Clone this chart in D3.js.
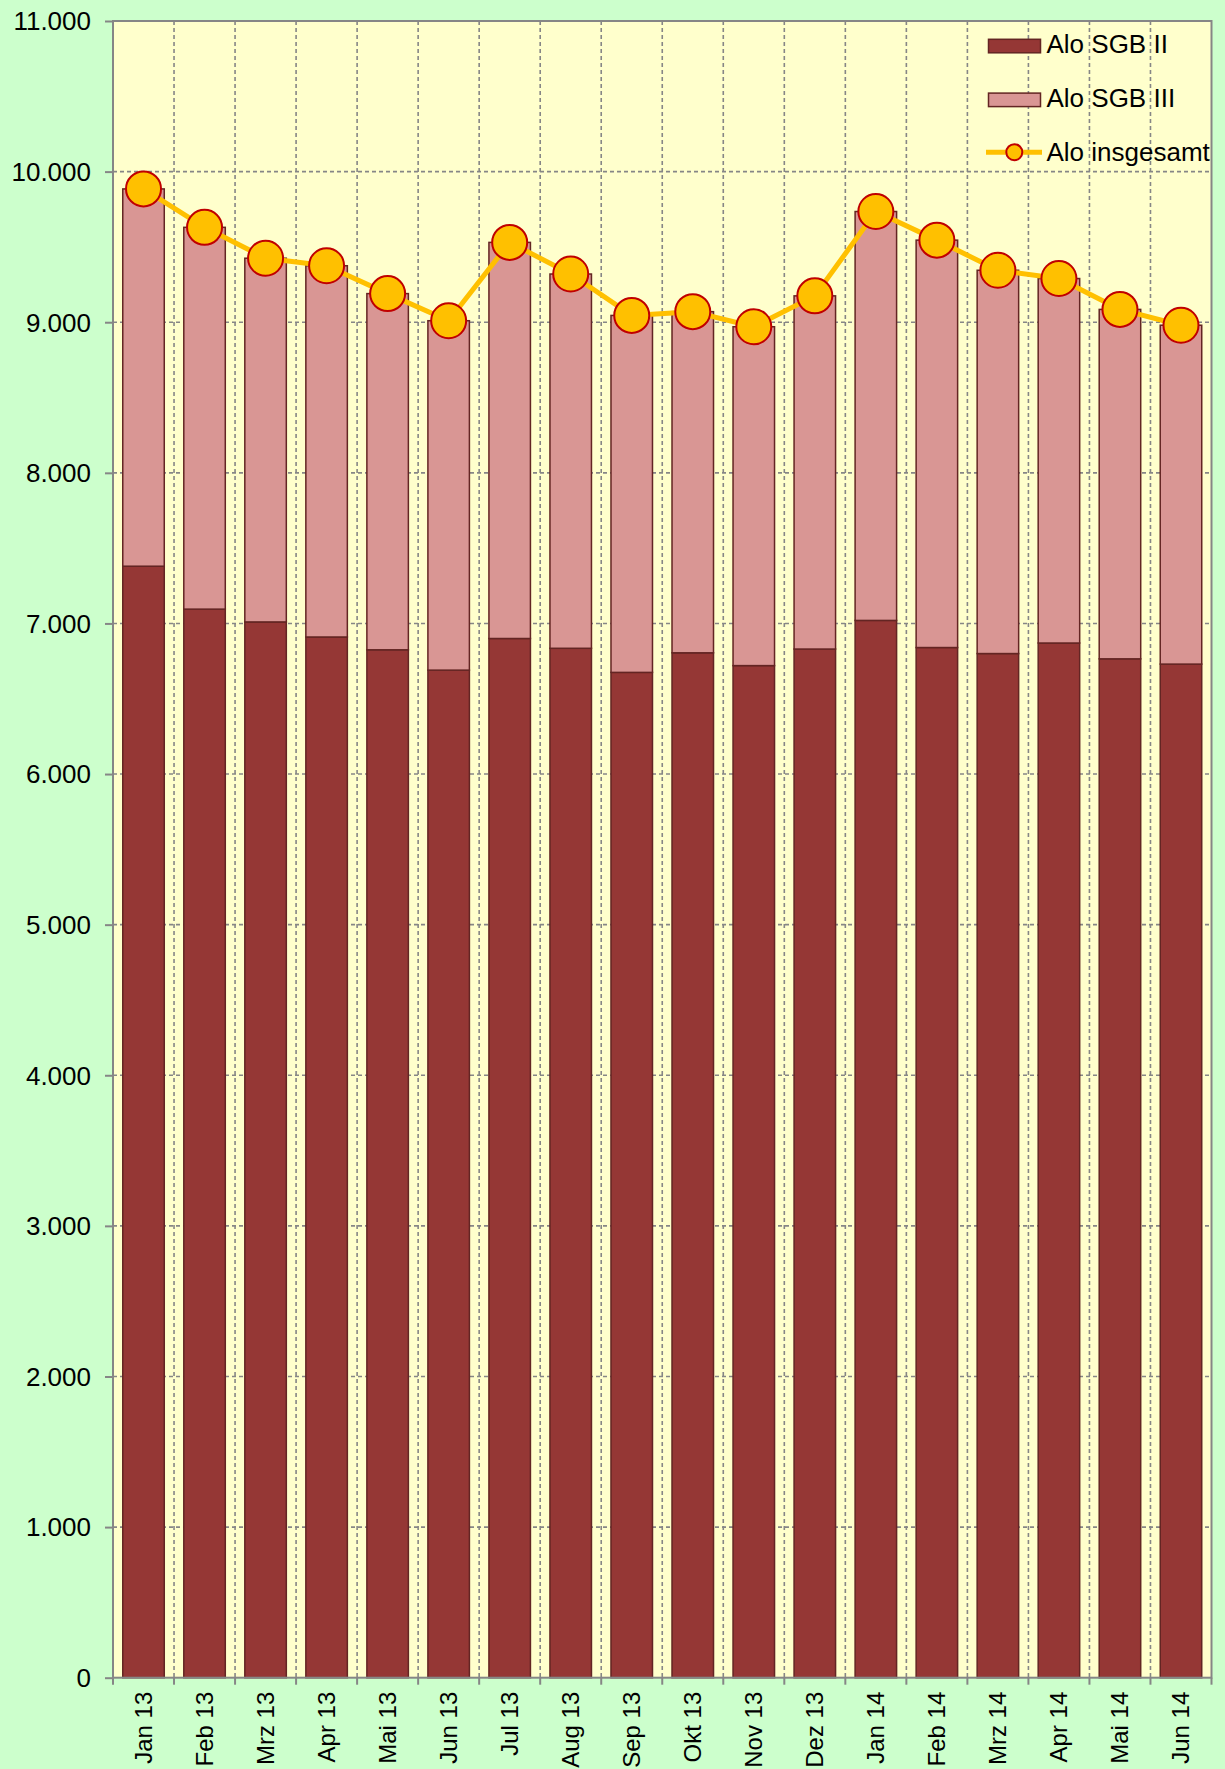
<!DOCTYPE html>
<html lang="de">
<head>
<meta charset="utf-8">
<script src="https://cdn.jsdelivr.net/npm/d3@7"></script>
<style>
  body { margin: 0; background: #ccffcc; }
  text { font-family: "Liberation Sans", Arial, sans-serif; fill: #000; }
</style>
</head>
<body>
<script>
// Monate
var months = ["Jan 13", "Feb 13", "Mrz 13", "Apr 13", "Mai 13", "Jun 13", "Jul 13", "Aug 13", "Sep 13",
              "Okt 13", "Nov 13", "Dez 13", "Jan 14", "Feb 14", "Mrz 14", "Apr 14", "Mai 14", "Jun 14"];
// Alo SGB II
var sgb2 = [7380, 7095, 7010, 6910, 6825, 6690, 6900, 6835, 6675,
            6805, 6720, 6830, 7020, 6840, 6800, 6870, 6765, 6730];
// Alo SGB III
var sgb3 = [2505, 2535, 2415, 2465, 2365, 2320, 2630, 2485, 2370,
            2265, 2250, 2345, 2715, 2705, 2545, 2420, 2320, 2250];
// Alo insgesamt
var total = [9885, 9630, 9425, 9375, 9190, 9010, 9530, 9320, 9045,
             9070, 8970, 9175, 9735, 9545, 9345, 9290, 9085, 8980];
var yTicks = [0, 1000, 2000, 3000, 4000, 5000, 6000, 7000, 8000, 9000, 10000, 11000];

var width = 1225, height = 1769;
var plotLeft = 113, plotRight = 1211.5, plotTop = 21, plotBottom = 1677.7;

var de = d3.formatLocale({decimal: ",", thousands: ".", grouping: [3], currency: ["", " €"]});
var fmt = de.format(",");

var svg = d3.select("body").append("svg")
    .attr("width", width)
    .attr("height", height);

svg.append("rect")
    .attr("width", width)
    .attr("height", height)
    .style("fill", "#ccffcc");

var x = d3.scaleBand()
    .domain(months)
    .range([plotLeft, plotRight])
    .paddingInner(0.32)
    .paddingOuter(0.16);

var y = d3.scaleLinear()
    .domain([0, 11000])
    .range([plotBottom, plotTop]);

// Zeichenfläche
svg.append("rect")
    .attr("x", plotLeft)
    .attr("y", plotTop)
    .attr("width", plotRight - plotLeft)
    .attr("height", plotBottom - plotTop)
    .style("fill", "#ffffcc");

// Gitterlinien
svg.selectAll("line.hgrid")
    .data(yTicks.slice(1, -1))
    .enter()
    .append("line")
    .attr("class", "hgrid")
    .attr("x1", plotLeft).attr("x2", plotRight)
    .attr("y1", function(d){ return y(d); })
    .attr("y2", function(d){ return y(d); })
    .style("stroke", "#868686")
    .style("stroke-width", 1.6)
    .style("stroke-dasharray", "4,3");

var step = x.step();
svg.selectAll("line.vgrid")
    .data(months.slice(1))
    .enter()
    .append("line")
    .attr("class", "vgrid")
    .attr("x1", function(d){ return x(d) - step * 0.16; })
    .attr("x2", function(d){ return x(d) - step * 0.16; })
    .attr("y1", plotTop).attr("y2", plotBottom)
    .style("stroke", "#868686")
    .style("stroke-width", 1.6)
    .style("stroke-dasharray", "4,3");

// Balken
var bars = svg.append("g");
bars.selectAll("rect.sgb2")
    .data(months)
    .enter()
    .append("rect")
    .attr("class", "sgb2")
    .attr("x", function(d){ return x(d); })
    .attr("width", x.bandwidth())
    .attr("y", function(d, i){ return y(sgb2[i]); })
    .attr("height", function(d, i){ return y(0) - y(sgb2[i]); })
    .style("fill", "#953735")
    .style("stroke", "#632523")
    .style("stroke-width", 1.5);

bars.selectAll("rect.sgb3")
    .data(months)
    .enter()
    .append("rect")
    .attr("class", "sgb3")
    .attr("x", function(d){ return x(d); })
    .attr("width", x.bandwidth())
    .attr("y", function(d, i){ return y(sgb2[i] + sgb3[i]); })
    .attr("height", function(d, i){ return y(sgb2[i]) - y(sgb2[i] + sgb3[i]); })
    .style("fill", "#d99694")
    .style("stroke", "#632523")
    .style("stroke-width", 1.5);

// Rahmen und Achsen
svg.append("rect")
    .attr("x", plotLeft)
    .attr("y", plotTop)
    .attr("width", plotRight - plotLeft)
    .attr("height", plotBottom - plotTop)
    .style("fill", "none")
    .style("stroke", "#868686")
    .style("stroke-width", 2);

var yAxis = svg.append("g")
    .attr("transform", "translate(" + plotLeft + ",0)")
    .call(d3.axisLeft(y).tickValues(yTicks).tickFormat(fmt).tickSize(8).tickPadding(14));
yAxis.select(".domain").remove();
yAxis.selectAll("line").style("stroke", "#868686").style("stroke-width", 2);
yAxis.selectAll("text")
    .style("font-size", "26px")
    .style("font-family", "'Liberation Sans', Arial, sans-serif")
    .attr("dy", "0.34em");

// x-Achse: Striche an den Kategoriegrenzen
var bounds = months.map(function(d){ return x(d) - step * 0.16; }).concat([plotRight]);
svg.selectAll("line.xtick")
    .data(bounds)
    .enter()
    .append("line")
    .attr("class", "xtick")
    .attr("x1", function(d){ return d; })
    .attr("x2", function(d){ return d; })
    .attr("y1", plotBottom).attr("y2", plotBottom + 7)
    .style("stroke", "#868686")
    .style("stroke-width", 2);

svg.selectAll("text.xlabel")
    .data(months)
    .enter()
    .append("text")
    .attr("class", "xlabel")
    .attr("transform", function(d){
        return "translate(" + (x(d) + x.bandwidth() / 2) + "," + (plotBottom + 14) + ") rotate(-90)";
    })
    .attr("text-anchor", "end")
    .attr("dy", "0.35em")
    .style("font-size", "24px")
    .text(function(d){ return d; });

// Linie Alo insgesamt
var line = d3.line()
    .x(function(d, i){ return x(months[i]) + x.bandwidth() / 2; })
    .y(function(d){ return y(d); });

svg.append("path")
    .datum(total)
    .attr("d", line)
    .style("fill", "none")
    .style("stroke", "#ffc000")
    .style("stroke-width", 5)
    .style("stroke-linejoin", "round");

svg.selectAll("circle.dot")
    .data(total)
    .enter()
    .append("circle")
    .attr("class", "dot")
    .attr("cx", function(d, i){ return x(months[i]) + x.bandwidth() / 2; })
    .attr("cy", function(d){ return y(d); })
    .attr("r", 17.5)
    .style("fill", "#ffc000")
    .style("stroke", "#c00000")
    .style("stroke-width", 2);

// Legende
var legend = svg.append("g");
var legItems = [
    {name: "Alo SGB II", fill: "#953735", type: "bar"},
    {name: "Alo SGB III", fill: "#d99694", type: "bar"},
    {name: "Alo insgesamt", fill: "#ffc000", type: "line"}
];
legItems.forEach(function(item, i){
    var base = 53.3 + i * 53.8;
    if (item.type === "bar") {
        legend.append("rect")
            .attr("x", 988.5)
            .attr("y", base - 14)
            .attr("width", 52)
            .attr("height", 13.5)
            .style("fill", item.fill)
            .style("stroke", "#632523")
            .style("stroke-width", 1.5);
    } else {
        legend.append("line")
            .attr("x1", 986).attr("x2", 1042)
            .attr("y1", base - 8.7).attr("y2", base - 8.7)
            .style("stroke", "#ffc000")
            .style("stroke-width", 5);
        legend.append("circle")
            .attr("cx", 1014.3)
            .attr("cy", base - 8.7)
            .attr("r", 8)
            .style("fill", "#ffc000")
            .style("stroke", "#c00000")
            .style("stroke-width", 2);
    }
    legend.append("text")
        .attr("x", 1046.5)
        .attr("y", base)
        .style("font-size", "26px")
        .text(item.name);
});
</script>
</body>
</html>
